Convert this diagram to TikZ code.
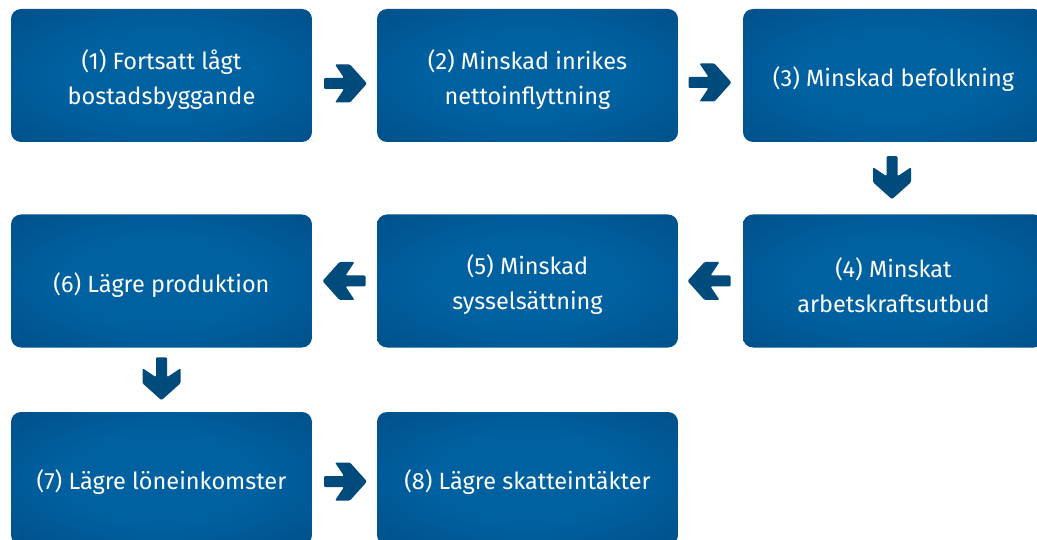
\documentclass[tikz,border=0pt]{standalone}
\usepackage{fontspec}
\setmainfont{Fira Sans}
\usetikzlibrary{calc}
\definecolor{boxin}{HTML}{0061A1}
\definecolor{boxout}{HTML}{004479}
\definecolor{arrowc}{HTML}{004A7C}
\pgfdeclareradialshading{boxshade}{\pgfpoint{0bp}{0bp}}{color(0bp)=(boxin); color(16bp)=(boxin); color(50bp)=(boxout); color(100bp)=(boxout)}
\tikzset{
  flowbox/.style={shading=boxshade, rounded corners=10pt, minimum width=301pt, minimum height=133pt,
    inner sep=0pt},
  boxtext/.style={text=white, align=center, inner sep=0pt, yshift=-4pt,
    font=\fontsize{23.5}{35}\selectfont},
  blockarrow/.style={fill=arrowc, draw=none, rounded corners=1.2pt}
}
\newcommand{\blockarr}[2]{%
  \path[blockarrow, shift={#1}, rotate=#2]
    (21,0) -- (4,-19) -- (-11,-19) -- (-2,-5.5) -- (-22,-5.5) -- (-22,5.5) -- (-2,5.5) -- (-11,19) -- (4,19) -- cycle;}
\begin{document}
\begin{tikzpicture}[x=1pt,y=-1pt]
\useasboundingbox (0,0) rectangle (1037,540);
\clip (0,0) rectangle (1037,540);
\node[flowbox, label={[boxtext]center:{(1) Fortsatt lågt\\bostadsbyggande}}] (b1) at (161.5,75.5) {};
\node[flowbox, label={[boxtext]center:{(2) Minskad inrikes\\nettoinflyttning}}] (b2) at (527.5,75.5) {};
\node[flowbox, label={[boxtext]center:{(3) Minskad befolkning}}] (b3) at (893.5,75.5) {};
\node[flowbox, label={[boxtext]center:{(4) Minskat\\arbetskraftsutbud}}] (b4) at (893.5,281) {};
\node[flowbox, label={[boxtext]center:{(5) Minskad\\sysselsättning}}] (b5) at (527.5,281) {};
\node[flowbox, label={[boxtext]center:{(6) Lägre produktion}}] (b6) at (161.5,281) {};
\node[flowbox, label={[boxtext]center:{(7) Lägre löneinkomster}}] (b7) at (161.5,478.5) {};
\node[flowbox, label={[boxtext]center:{(8) Lägre skatteintäkter}}] (b8) at (527.5,478.5) {};
\blockarr{($(b1.east)!0.5!(b2.west)+(1.5,8)$)}{0}
\blockarr{($(b2.east)!0.5!(b3.west)+(0,7)$)}{0}
\blockarr{($(b3.south)!0.5!(b4.north)+(-1.5,0)$)}{-90}
\blockarr{($(b4.west)!0.5!(b5.east)+(-2,0)$)}{180}
\blockarr{($(b5.west)!0.5!(b6.east)+(-1,0)$)}{180}
\blockarr{($(b6.south)!0.5!(b7.north)+(0,-0.5)$)}{-90}
\blockarr{($(b7.east)!0.5!(b8.west)+(1.5,3)$)}{0}
\end{tikzpicture}
\end{document}
